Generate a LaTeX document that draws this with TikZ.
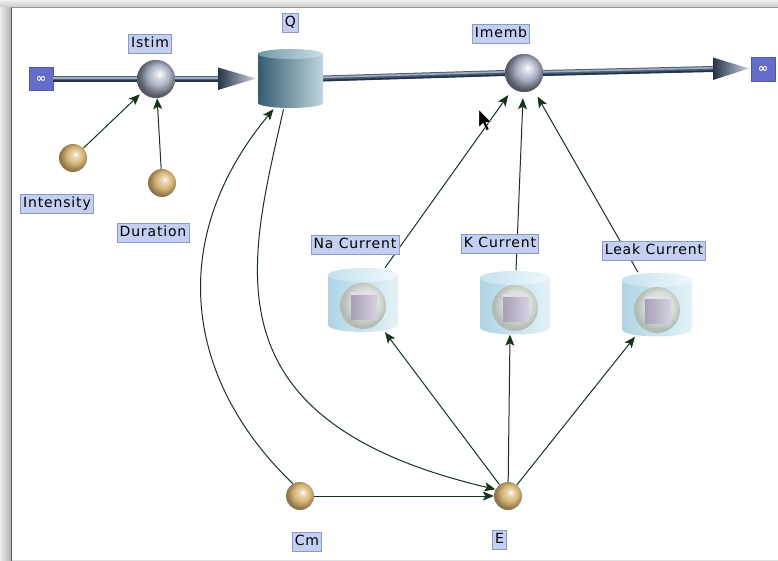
\documentclass[tikz,border=0pt]{standalone}
\usepackage{fontspec}
\newfontfamily\labfont[LetterSpace=6]{DejaVu Sans}
\newfontfamily\symfont{DejaVu Sans}
\usetikzlibrary{arrows.meta,calc}
\definecolor{goldc}{RGB}{214,180,116}
\definecolor{silverc}{RGB}{168,176,194}
\definecolor{innerc}{RGB}{212,220,212}
\definecolor{labfill}{RGB}{196,207,242}
\definecolor{labedge}{RGB}{140,154,200}
\definecolor{infblue}{RGB}{100,110,200}
\definecolor{conngreen}{RGB}{22,52,28}
\definecolor{pipedark}{RGB}{38,50,70}
\definecolor{pipemid}{RGB}{78,94,120}
\definecolor{pipelight}{RGB}{160,174,194}
\definecolor{arrowlight}{RGB}{205,212,224}
\definecolor{qleft}{RGB}{52,92,110}
\definecolor{qright}{RGB}{192,214,222}
\definecolor{qtopl}{RGB}{112,152,166}
\definecolor{qtopr}{RGB}{205,224,230}
\definecolor{cleft}{RGB}{176,212,228}
\definecolor{cright}{RGB}{228,242,248}
\definecolor{ctopl}{RGB}{196,226,238}
\definecolor{ctopr}{RGB}{240,248,252}
\definecolor{sqleft}{RGB}{168,160,184}
\definecolor{sqright}{RGB}{214,210,224}
\pgfdeclareradialshading{goldball}{\pgfpoint{5bp}{7bp}}{color(0bp)=(white); color(5bp)=(white!50!goldc); color(15bp)=(goldc); color(24bp)=(goldc!70!black); color(26bp)=(goldc!65!black); color(50bp)=(goldc!65!black)}
\pgfdeclareradialshading{silverball}{\pgfpoint{5bp}{7bp}}{color(0bp)=(white); color(5bp)=(white!60!silverc); color(14bp)=(silverc); color(24bp)=(silverc!55!black); color(26bp)=(silverc!50!black); color(50bp)=(silverc!50!black)}
\pgfdeclareradialshading{innerball}{\pgfpoint{4bp}{6bp}}{color(0bp)=(white); color(6bp)=(white!50!innerc); color(16bp)=(innerc); color(25bp)=(innerc!85!black); color(50bp)=(innerc!85!black)}
\newcommand\drawcyl[9]{%
  \shade[left color=#6, right color=#7] (#1-#4,#2) rectangle (#1+#4,#3);
  \shade[left color=#6, right color=#7] (#1,#3) ellipse [x radius=#4pt, y radius=#5pt];
  \shade[left color=#8, right color=#9] (#1,#2) ellipse [x radius=#4pt, y radius=#5pt];
}
\newcommand\drawpipe[2]{%
  \draw[line width=6pt, pipemid] #1 -- #2;
  \draw[line width=1.6pt, pipedark, transform canvas={yshift=-2pt}] #1 -- #2;
  \draw[line width=1.6pt, pipelight, transform canvas={yshift=1.2pt}] #1 -- #2;
}
\begin{document}
\begin{tikzpicture}[x=1pt,y=-1pt,
  lab/.style={fill=labfill, draw=labedge, line width=0.5pt, inner xsep=2.5pt, inner ysep=0pt,
    minimum height=19pt, text height=10pt, text depth=2.5pt,
    font={\labfont\fontsize{14pt}{16pt}\selectfont}},
  goldnode/.style={circle, inner sep=0pt, minimum size=28pt, shade, shading=goldball},
  valvenode/.style={circle, inner sep=0pt, minimum size=38pt, shade, shading=silverball},
  infbox/.style={fill=infblue, draw=infblue!80!black, line width=0.4pt, minimum width=24pt, minimum height=23pt,
    inner sep=0pt, text=white, font={\symfont\bfseries\fontsize{12pt}{12pt}\selectfont}},
  cylnode/.style={rectangle, inner sep=0pt, draw=none},
  conn/.style={draw=conngreen, line width=1pt, -{Stealth[length=11pt,width=9pt,inset=2.5pt]}},
]
\useasboundingbox (0,0) rectangle (778,561);
\fill[white] (0,0) rectangle (778,561);
% window frame
\shade[left color=black!8, right color=black!30] (0,0) rectangle (11,561);
\fill[black!65] (10.5,8) rectangle (12.2,561);
\shade[top color=black!6, bottom color=black!20] (0,0) rectangle (778,7);
\fill[black!40] (10.5,7) rectangle (778,8.3);
\fill[black!12] (12.2,559.5) rectangle (778,561);

% ---- nodes ----
\node[infbox] (LInf) at (41,79) {∞};
\node[valvenode] (Istim) at (156,79) {};
\node[cylnode, minimum width=65pt, minimum height=59pt] (Q) at (290.5,78.5) {};
\node[valvenode] (Imemb) at (524,73) {};
\node[infbox, minimum height=24pt] (RInf) at (763,69) {∞};
\node[goldnode] (Intensity) at (73,158) {};
\node[goldnode] (Duration) at (162,183) {};
\node[goldnode] (Cm) at (300,496) {};
\node[goldnode] (E) at (508,496) {};
\node[cylnode, minimum width=70pt, minimum height=64pt] (Na) at (363,300) {};
\node[cylnode, minimum width=70pt, minimum height=64pt] (K) at (515,302.5) {};
\node[cylnode, minimum width=70pt, minimum height=64pt] (Leak) at (657,304.5) {};
\coordinate (QIn) at (218,79);
\coordinate (OutArr) at (713,69);

% ---- pipes ----
\drawpipe{(LInf.east)}{(Istim.west)}
\drawpipe{(Istim.east)}{(QIn)}
\drawpipe{(Q.east)}{(Imemb.west)}
\drawpipe{(Imemb.east)}{(OutArr)}
\shade[left color=pipedark, right color=arrowlight] (218,67.5) -- (256,78.5) -- (218,90) -- cycle;
\shade[left color=pipedark, right color=arrowlight] (713,57.5) -- (749,68.5) -- (713,80) -- cycle;
\node[valvenode] at (Istim) {};
\node[valvenode] at (Imemb) {};

% ---- Q stock ----
\drawcyl{290.5}{54}{103}{32.5}{5}{qleft}{qright}{qtopl}{qtopr}

% ---- connectors ----
\draw[conn, shorten >=3pt] (Intensity) -- (Istim);
\draw[conn] (Duration) -- (Istim);
\draw[conn] (Cm.120) .. controls (185,380) and (165,240) .. ([xshift=-17pt,yshift=-1pt]Q.south);
\draw[conn] ([xshift=-7pt,yshift=-1pt]Q.south) .. controls (250,260) and (200,420) .. (E.152);
\draw[conn] (Cm) -- (E);
\draw[conn] (E) -- ([xshift=22pt]Na.south);
\draw[conn] (E) -- ([xshift=-5pt]K.south);
\draw[conn] (E) -- ([xshift=-22pt]Leak.south);
\draw[conn, shorten >=8pt] ([xshift=22pt]Na.north) -- (Imemb);
\draw[conn, shorten >=6pt] ([xshift=1pt]K.north) -- (Imemb);
\draw[conn, shorten >=8pt] ([xshift=-19pt]Leak.north) -- (Imemb);

% ---- current stocks ----
\foreach \cx/\ct/\cb/\sy in {363/275/325/306, 515/278/327.5/308, 657/280/329.5/310}{
  \drawcyl{\cx}{\ct}{\cb}{35}{7}{cleft}{cright}{ctopl}{ctopr}
  \shade[shading=innerball] (\cx,\sy) circle [radius=23pt];
  \shade[left color=sqleft, right color=sqright] (\cx-12,\sy-14) rectangle (\cx+14,\sy+13);
  \fill[sqright!70!white] (\cx-12,\sy-14) rectangle (\cx+14,\sy-11);
}

% ---- labels ----
\node[lab] (LIstim) at (150,44) {Istim};
\node[lab] (LQ) at (290.5,23) {Q};
\node[lab] (LImemb) at (501,34) {Imemb};
\node[lab] (LIntensity) at (57,204) {Intensity};
\node[lab] (LDuration) at (153,233) {Duration};
\node[lab] (LNa) at (355,245) {Na Current};
\node[lab] (LK) at (500,243.5) {K Current};
\node[lab] (LLeak) at (654,250.5) {Leak Current};
\node[lab] (LCm) at (307,542) {Cm};
\node[lab] (LE) at (499.5,540) {E};

% ---- mouse pointer ----
\fill[black, draw=white, line width=0.3pt] (479,110) -- ++(0,17) -- ++(4,-4) -- ++(3.5,7.5) -- ++(2.6,-1.3) -- ++(-3.4,-7) -- ++(5.6,0) -- cycle;
\end{tikzpicture}
\end{document}
